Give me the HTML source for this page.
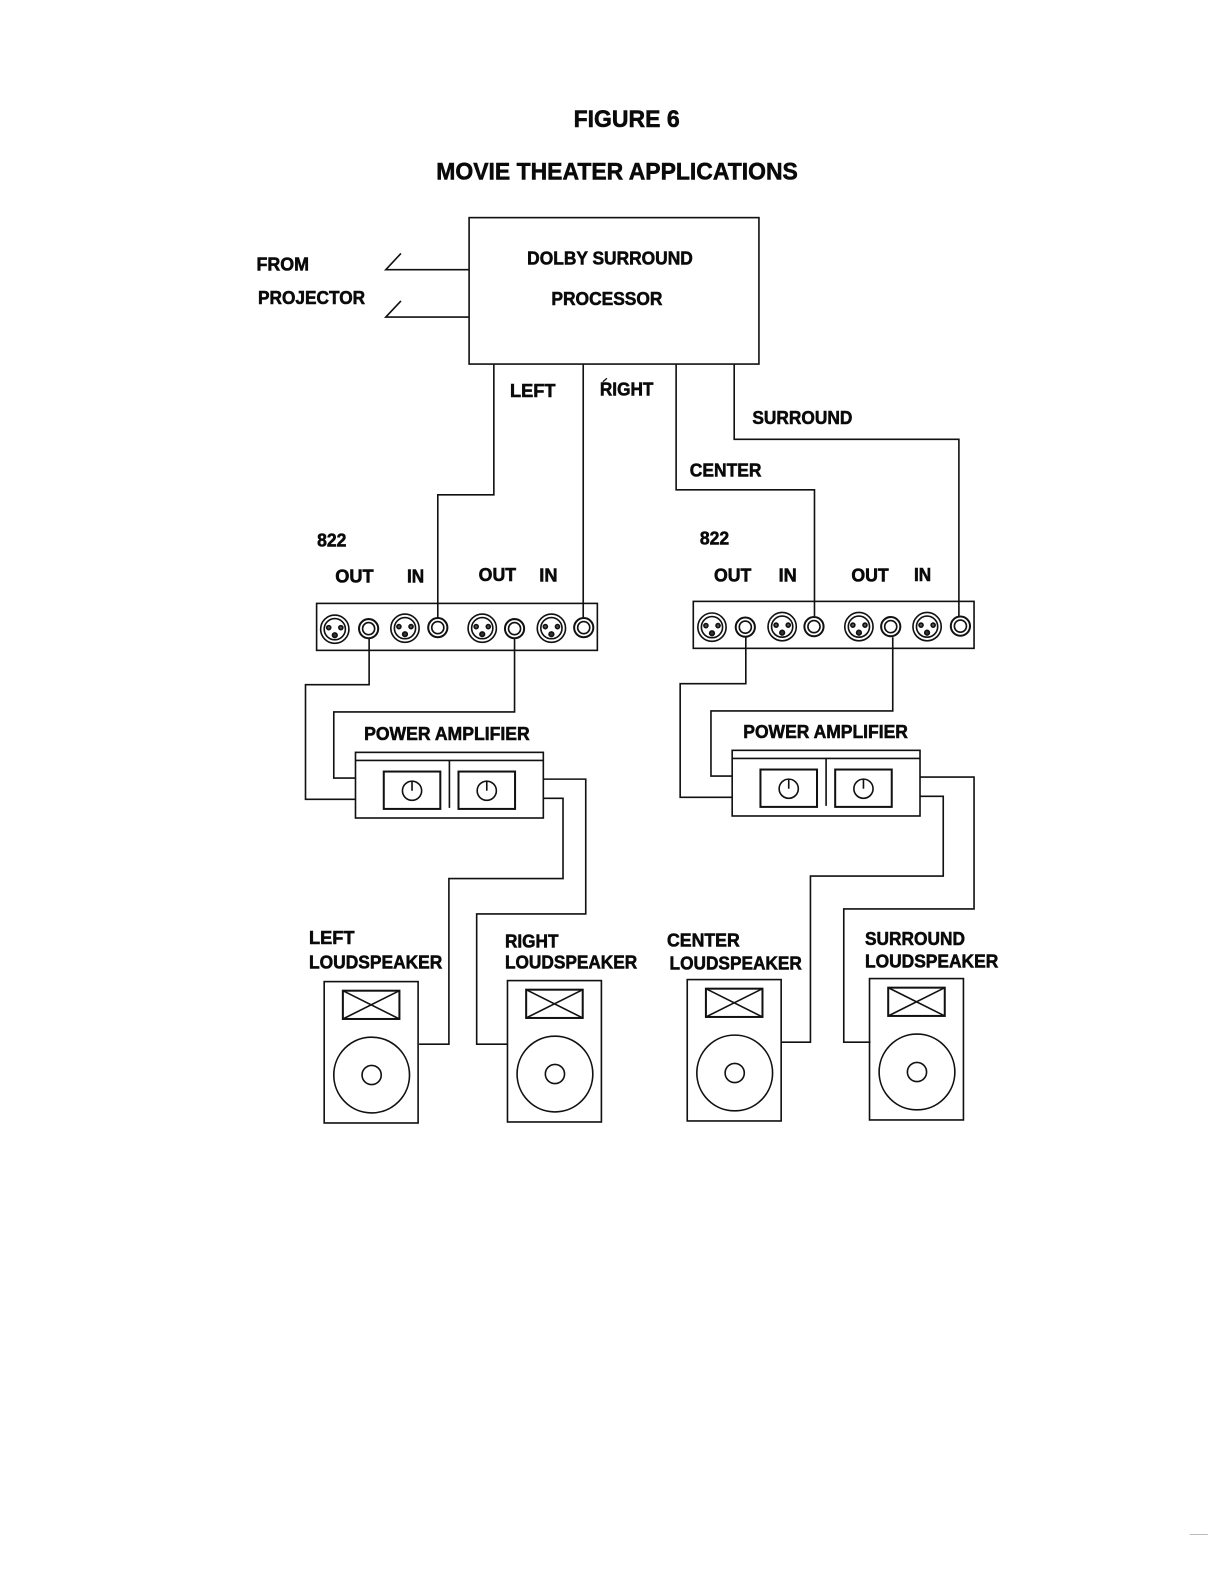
<!DOCTYPE html>
<html><head><meta charset="utf-8"><style>
html,body{margin:0;padding:0;background:#fff}
svg{display:block}
text{font-family:"Liberation Sans",sans-serif;font-weight:bold;fill:#0a0a0a;stroke:#0a0a0a;stroke-width:.55}
.l{fill:none;stroke:#111;stroke-width:1.6}
</style></head><body>
<svg width="1224" height="1584" viewBox="0 0 1212 1568.500" xmlns="http://www.w3.org/2000/svg">
<defs>
<g id="xlr" class="l"><circle r="14" fill="#fff"/><circle r="10.500"/><circle cx="-6" cy="-1.500" r="2" fill="#555"/><circle cx="6" cy="-1.500" r="2" fill="#555"/><circle cx="0" cy="6" r="2.300" fill="#333"/></g>
<g id="rca" class="l"><circle r="9.500" fill="#fff" stroke-width="2"/><circle r="6" stroke-width="1.600"/></g>
<g id="spk" class="l"><rect x="0" y="0" width="93" height="140"/><rect x="18.500" y="9" width="56" height="28" stroke-width="2"/><path d="M18.500 9L74.500 37M18.500 37L74.500 9"/><circle cx="47" cy="92.500" r="37.500"/><circle cx="47" cy="92.500" r="9.500"/></g>
<g id="amp" class="l"><rect x="0" y="0" width="186" height="65"/><path d="M0 8H186M93 8V55"/><rect x="28" y="19" width="56" height="37" stroke-width="2"/><rect x="102" y="19" width="56" height="37" stroke-width="2"/><circle cx="56" cy="38" r="9.500"/><path d="M56 28V38"/><circle cx="130" cy="38" r="9.500"/><path d="M130 28V38"/></g>
</defs>

<text x="568" y="126" font-size="24" textLength="105" lengthAdjust="spacingAndGlyphs">FIGURE 6</text>
<text x="432" y="177.500" font-size="24" textLength="358" lengthAdjust="spacingAndGlyphs">MOVIE THEATER APPLICATIONS</text>

<rect class="l" x="464.500" y="215.500" width="287" height="145"/>
<text x="522" y="262" font-size="18" textLength="164" lengthAdjust="spacingAndGlyphs">DOLBY SURROUND</text>
<text x="546" y="302" font-size="18" textLength="110" lengthAdjust="spacingAndGlyphs">PROCESSOR</text>
<text x="254" y="268" font-size="18" textLength="52" lengthAdjust="spacingAndGlyphs">FROM</text>
<text x="255.500" y="301" font-size="18" textLength="106" lengthAdjust="spacingAndGlyphs">PROJECTOR</text>
<path class="l" d="M464 267H382L397 251M464 314H382L397 298"/>

<path class="l" d="M489 361V490H433.500V612"/>
<path class="l" d="M577.500 361V612"/>
<path class="l" d="M669.500 361V485H806.500V610"/>
<path class="l" d="M727 361V435H949.500V610"/>
<text x="505" y="393" font-size="18" textLength="45" lengthAdjust="spacingAndGlyphs">LEFT</text>
<text x="594" y="391.500" font-size="18" textLength="53" lengthAdjust="spacingAndGlyphs">RIGHT</text>
<path d="M597 378L601 374.500" stroke="#111" stroke-width="1.300" fill="none"/>
<text x="745" y="420" font-size="18" textLength="99" lengthAdjust="spacingAndGlyphs">SURROUND</text>
<text x="683" y="472" font-size="18" textLength="71" lengthAdjust="spacingAndGlyphs">CENTER</text>

<text x="314" y="541" font-size="18" textLength="29" lengthAdjust="spacingAndGlyphs">822</text>
<text x="693" y="539" font-size="18" textLength="29" lengthAdjust="spacingAndGlyphs">822</text>
<text x="332" y="577" font-size="18" textLength="38" lengthAdjust="spacingAndGlyphs">OUT</text>
<text x="403" y="577" font-size="18" textLength="17" lengthAdjust="spacingAndGlyphs">IN</text>
<text x="474" y="575.500" font-size="18" textLength="37" lengthAdjust="spacingAndGlyphs">OUT</text>
<text x="534" y="576" font-size="18" textLength="18" lengthAdjust="spacingAndGlyphs">IN</text>
<text x="707" y="576" font-size="18" textLength="37" lengthAdjust="spacingAndGlyphs">OUT</text>
<text x="771" y="576" font-size="18" textLength="18" lengthAdjust="spacingAndGlyphs">IN</text>
<text x="843" y="576" font-size="18" textLength="37" lengthAdjust="spacingAndGlyphs">OUT</text>
<text x="905" y="575.500" font-size="18" textLength="17" lengthAdjust="spacingAndGlyphs">IN</text>

<rect class="l" x="313.500" y="597.500" width="278" height="46.500"/>
<rect class="l" x="686.500" y="595.500" width="278" height="46.500"/>

<path class="l" d="M365.500 632V678H302.500V791.500H352"/>
<path class="l" d="M509.500 632V705H330.500V770.500H352"/>
<path class="l" d="M738.500 631V677H673.500V789.500H725"/>
<path class="l" d="M884 631V704H704V768.500H725"/>

<use href="#xlr" x="331.500" y="623"/><use href="#rca" x="365" y="622.500"/>
<use href="#xlr" x="401" y="622"/><use href="#rca" x="433.500" y="621.500"/>
<use href="#xlr" x="477.500" y="622"/><use href="#rca" x="509.500" y="622.500"/>
<use href="#xlr" x="546" y="622"/><use href="#rca" x="578" y="621.500"/>
<use href="#xlr" x="705" y="621"/><use href="#rca" x="738" y="621"/>
<use href="#xlr" x="774.500" y="620.500"/><use href="#rca" x="806" y="620.500"/>
<use href="#xlr" x="850.500" y="620.500"/><use href="#rca" x="882" y="620.500"/>
<use href="#xlr" x="918" y="620.500"/><use href="#rca" x="951" y="620"/>

<text x="360.500" y="733" font-size="18.500" textLength="164" lengthAdjust="spacingAndGlyphs">POWER AMPLIFIER</text>
<text x="736" y="731" font-size="18.500" textLength="163" lengthAdjust="spacingAndGlyphs">POWER AMPLIFIER</text>
<use href="#amp" x="352" y="745"/>
<use href="#amp" x="725" y="743"/>

<path class="l" d="M538 771.500H580V905H472V1034H503"/>
<path class="l" d="M538 790.500H557.500V870H444.500V1034H415"/>
<path class="l" d="M911 769.500H964.500V900H835.500V1032H862"/>
<path class="l" d="M911 788.500H934V867.500H802.500V1032H774"/>

<text x="306" y="935" font-size="18" textLength="45" lengthAdjust="spacingAndGlyphs">LEFT</text>
<text x="306" y="959" font-size="18" textLength="132" lengthAdjust="spacingAndGlyphs">LOUDSPEAKER</text>
<text x="500" y="938" font-size="18" textLength="53" lengthAdjust="spacingAndGlyphs">RIGHT</text>
<text x="500" y="959" font-size="18" textLength="131" lengthAdjust="spacingAndGlyphs">LOUDSPEAKER</text>
<text x="660.500" y="937" font-size="18" textLength="72" lengthAdjust="spacingAndGlyphs">CENTER</text>
<text x="663" y="960" font-size="18" textLength="131" lengthAdjust="spacingAndGlyphs">LOUDSPEAKER</text>
<text x="856.500" y="936" font-size="18" textLength="99" lengthAdjust="spacingAndGlyphs">SURROUND</text>
<text x="856.500" y="958" font-size="18" textLength="132" lengthAdjust="spacingAndGlyphs">LOUDSPEAKER</text>

<use href="#spk" x="321" y="972"/>
<use href="#spk" x="502.500" y="971"/>
<use href="#spk" x="680.500" y="970"/>
<use href="#spk" x="861" y="969"/>

<path d="M1178 1519.500H1196" stroke="#bbb" stroke-width="1" fill="none"/>
</svg>
</body></html>
